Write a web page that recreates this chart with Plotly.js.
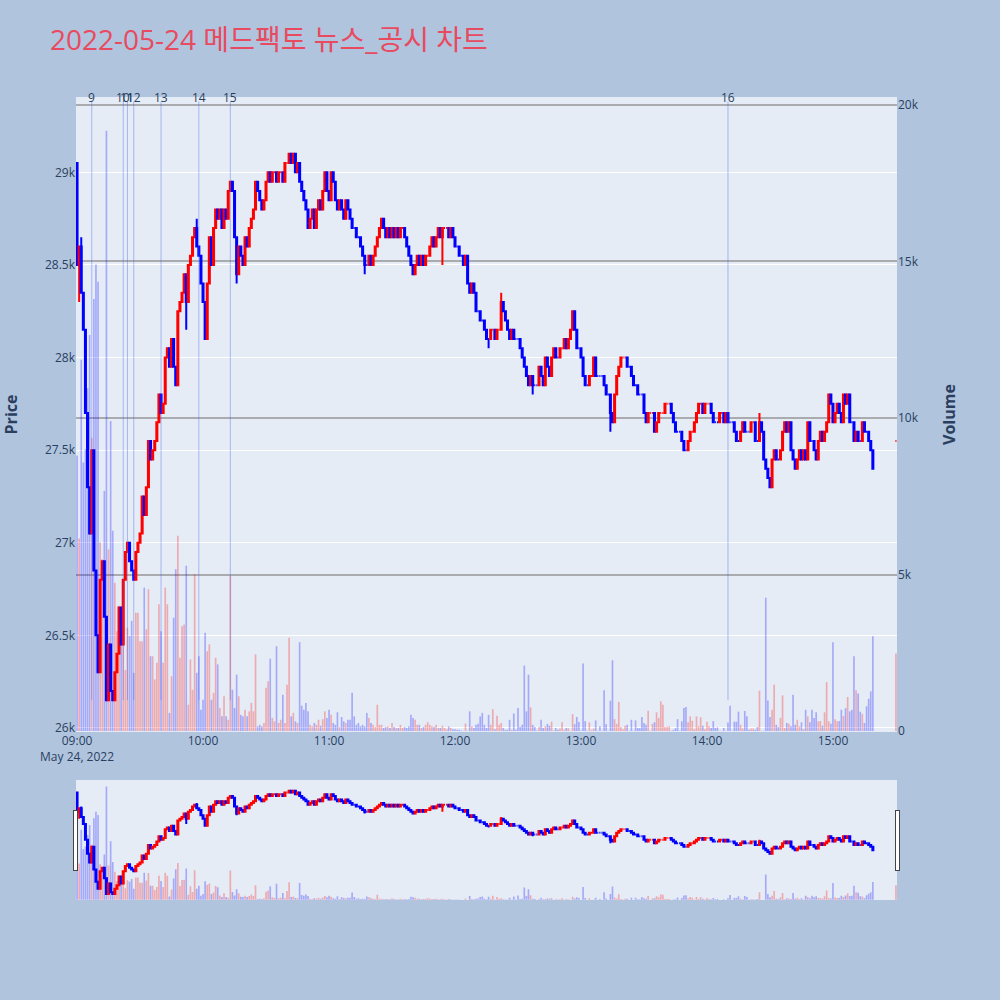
<!DOCTYPE html>
<html>
<head>
<meta charset="utf-8">
<script src="https://cdn.plot.ly/plotly-3.0.1.min.js"></script>
<style>
  html, body { margin: 0; padding: 0; background: #B0C4DE; }
</style>
</head>
<body>
<div id="chart" style="width:1000px;height:1000px;"></div>
<script>
// 1-minute candles, 09:00 .. 15:19, then the 15:30 closing auction
const dayStr = '2022-05-24';
const startOpen = 29050;
const closePrice = [
  28500,28600,28350,28150,27700,27300,27050,27500,26850,26500,26300,26800,26900,26600,26150,26450,26200,26150,26300,26400,
  26650,26450,26800,26950,27000,26900,26850,26800,26950,27000,27050,27250,27150,27300,27550,27450,27500,27550,27650,27800,
  27700,27750,28000,28050,27950,28100,27950,27850,28250,28300,28350,28450,28300,28500,28550,28650,28700,28600,28550,28400,
  28300,28100,28400,28650,28500,28700,28800,28750,28800,28700,28800,28750,28900,28950,28900,28650,28450,28600,28550,28500,
  28650,28600,28700,28750,28800,28950,28900,28850,28800,28850,28950,29000,28950,29000,29000,28950,29000,29000,28950,29050,
  29050,29100,29050,29100,29000,29050,28950,28900,28850,28800,28700,28750,28800,28700,28800,28850,28800,28900,29000,28900,
  28850,29000,28950,28850,28800,28850,28800,28750,28850,28800,28750,28700,28700,28650,28650,28600,28550,28500,28500,28550,
  28500,28550,28600,28650,28700,28750,28700,28650,28700,28650,28700,28650,28700,28650,28700,28700,28650,28600,28550,28500,
  28450,28500,28550,28500,28550,28500,28550,28550,28600,28650,28600,28650,28700,28650,28700,28700,28700,28650,28700,28650,
  28600,28600,28550,28550,28500,28550,28400,28350,28400,28350,28250,28250,28200,28200,28150,28100,28100,28150,28150,28100,
  28150,28150,28300,28250,28200,28150,28100,28150,28100,28100,28100,28050,28000,27950,27900,27850,27900,27850,27850,27850,
  27950,27900,27850,28000,27950,27900,28000,28050,28000,28000,28050,28050,28100,28050,28100,28150,28250,28150,28050,28050,
  28000,27900,27850,27850,27900,27900,28000,27900,27900,27900,27900,27850,27800,27800,27700,27650,27800,27900,27950,28000,
  28000,28000,27950,27950,27900,27850,27850,27800,27800,27800,27700,27650,27700,27700,27700,27600,27650,27700,27700,27700,
  27750,27750,27750,27700,27650,27600,27600,27600,27550,27500,27500,27550,27600,27600,27650,27700,27750,27750,27700,27750,
  27750,27750,27700,27650,27650,27650,27700,27700,27650,27700,27650,27650,27650,27600,27550,27550,27600,27650,27600,27600,
  27600,27650,27650,27550,27550,27650,27600,27450,27400,27350,27300,27450,27500,27450,27450,27500,27600,27650,27600,27650,
  27500,27450,27400,27450,27500,27450,27500,27450,27650,27550,27550,27500,27450,27550,27600,27550,27600,27650,27800,27750,
  27650,27700,27750,27700,27650,27800,27750,27800,27650,27650,27550,27600,27550,27550,27650,27600,27600,27550,27500,27400
];
const volume = [
  8800,6150,11860,8580,9000,10950,12650,9370,13800,14900,14350,6030,5490,7670,19170,5800,9900,6400,4740,3190,
  4000,3420,2800,1950,3300,3040,3520,1860,3780,3780,2870,2870,4580,3250,4530,2390,2390,1650,2180,4050,
  3190,2180,4580,4050,580,1750,3620,5170,6240,2340,3350,3400,5280,840,2290,1320,5010,1860,2390,680,
  1000,3140,2550,2770,1000,1220,2340,2130,740,470,1110,470,360,4960,1320,740,1800,1110,520,470,
  680,470,630,900,630,2450,150,200,150,260,1380,1590,2310,420,310,2710,260,360,1160,260,
  1480,2980,470,580,310,260,2840,810,680,900,630,200,150,260,200,360,170,380,630,420,
  680,520,260,200,600,130,450,310,260,360,360,1220,470,200,260,150,200,150,580,420,
  260,200,130,840,200,200,100,130,150,100,260,130,100,100,200,100,130,100,150,520,
  420,360,200,200,100,130,200,280,200,150,130,200,100,100,170,100,60,150,100,60,
  60,40,40,20,10,240,10,630,150,100,200,230,470,580,200,100,520,200,700,60,
  490,200,260,100,40,40,360,40,560,40,740,130,200,2090,630,1800,760,200,130,20,
  130,360,100,150,230,170,300,20,100,40,80,280,40,100,90,10,540,220,450,290,
  20,2160,320,10,280,30,75,340,10,150,10,1300,220,10,970,2260,380,230,930,130,
  60,170,200,10,360,10,340,100,90,450,260,200,650,10,230,280,600,420,950,840,
  130,130,150,10,40,90,380,10,310,740,770,280,470,330,60,470,150,440,170,60,
  300,150,100,320,100,120,10,10,100,10,270,810,10,300,300,620,200,80,640,470,
  40,80,80,40,130,1290,10,10,4260,980,450,680,1480,200,130,420,1140,100,260,230,
  150,1160,200,360,150,280,60,680,470,280,680,420,600,310,320,170,600,1560,310,230,
  2840,380,310,320,680,480,730,1090,630,680,2390,1300,1200,620,550,260,790,1030,1270,3030
];
const auctionTime = '2022-05-24 15:30';
const auctionPrice = 27550;
const auctionVolume = 2480;

// visible wicks beyond the candle bodies (minute index, price)
const wickHighMinute = [2, 57, 202, 325];
const wickHighPrice = [28650, 28750, 28350, 27700];
const wickLowMinute = [1, 52, 76, 137, 174, 196, 217, 254];
const wickLowPrice = [28300, 28150, 28400, 28450, 28500, 28050, 27800, 27600];

// news / disclosure markers
const newsTimes = ['2022-05-24 09:07', '2022-05-24 09:22', '2022-05-24 09:24', '2022-05-24 09:27',
                   '2022-05-24 09:40', '2022-05-24 09:58', '2022-05-24 10:13', '2022-05-24 14:10'];
const newsLabels = ['9', '10', '11', '12', '13', '14', '15', '16'];

function minuteStamp(m) {
    const h = 9 + Math.floor(m / 60), mm = m % 60;
    return dayStr + ' ' + String(h).padStart(2, '0') + ':' + String(mm).padStart(2, '0');
}

// build OHLC arrays
const times = [], opens = [], highs = [], lows = [], closes = [];
closePrice.forEach((c, i) => {
    const o = i === 0 ? startOpen : closePrice[i - 1];
    times.push(minuteStamp(i));
    opens.push(o);
    closes.push(c);
    highs.push(Math.max(o, c));
    lows.push(Math.min(o, c));
});
wickHighMinute.forEach((m, k) => { highs[m] = Math.max(highs[m], wickHighPrice[k]); });
wickLowMinute.forEach((m, k) => { lows[m] = Math.min(lows[m], wickLowPrice[k]); });
times.push(auctionTime); opens.push(auctionPrice); highs.push(auctionPrice);
lows.push(auctionPrice); closes.push(auctionPrice);
const vols = volume.concat([auctionVolume]);

// volume colour follows candle direction (same rule plotly uses)
const volColors = [];
let up = true, prevC = null;
for (let i = 0; i < closes.length; i++) {
    if (closes[i] === opens[i]) {
        if (prevC !== null && closes[i] !== prevC) up = closes[i] > prevC;
    } else {
        up = closes[i] > opens[i];
    }
    prevC = closes[i];
    volColors.push(up ? 'rgba(255,0,0,0.28)' : 'rgba(0,0,255,0.28)');
}

const traceVolume = {
    type: 'bar', x: times, y: vols, yaxis: 'y',
    marker: { color: volColors, line: { width: 0 } },
    hoverinfo: 'x+y', name: 'Volume'
};
const traceCandle = {
    type: 'candlestick', x: times, open: opens, high: highs, low: lows, close: closes,
    xaxis: 'x', yaxis: 'y2', name: 'Price',
    increasing: { line: { color: 'red', width: 2 }, fillcolor: 'red' },
    decreasing: { line: { color: 'blue', width: 2 }, fillcolor: 'blue' }
};

const lineTop = 29383;
const lineBottom = 26150;
const shapes = newsTimes.map(t => ({
    type: 'line', xref: 'x', yref: 'y2', x0: t, x1: t, y0: lineBottom, y1: lineTop,
    line: { color: 'rgba(70,100,240,0.4)', width: 1 }
}));
const annotations = newsTimes.map((t, i) => ({
    x: t, y: 1, xref: 'x', yref: 'paper', text: newsLabels[i], showarrow: false,
    yanchor: 'middle', font: { size: 12, color: '#2a3f5f' }
}));

const layout = {
    width: 1000, height: 1000,
    paper_bgcolor: '#B0C4DE',
    plot_bgcolor: '#E5ECF6',
    font: { family: '"Open Sans", "Noto Sans CJK KR", sans-serif', color: '#2a3f5f', size: 12 },
    title: {
        text: '2022-05-24 메드팩토 뉴스_공시 차트',
        x: 0.05, xanchor: 'left', y: 0.96, yanchor: 'middle',
        font: { size: 28, color: '#E84A5F' }
    },
    margin: { l: 76, r: 103, t: 97, b: 100 },
    showlegend: false,
    xaxis: {
        type: 'date', showgrid: false,
        rangeslider: { visible: true, thickness: 0.15, bgcolor: '#E5ECF6' }
    },
    yaxis: {
        title: { text: 'Volume', font: { size: 16, weight: 'bold' }, standoff: 26 },
        side: 'right', range: [-30, 20250],
        gridcolor: 'rgba(128,128,128,0.6)', gridwidth: 2, zeroline: false
    },
    yaxis2: {
        title: { text: 'Price', font: { size: 16, weight: 'bold' }, standoff: 24 },
        side: 'left', overlaying: 'y', range: [25978, 29407],
        gridcolor: 'white', gridwidth: 1, zeroline: false
    },
    shapes: shapes,
    annotations: annotations
};

Plotly.newPlot('chart', [traceVolume, traceCandle], layout, { displayModeBar: false });
</script>
</body>
</html>
